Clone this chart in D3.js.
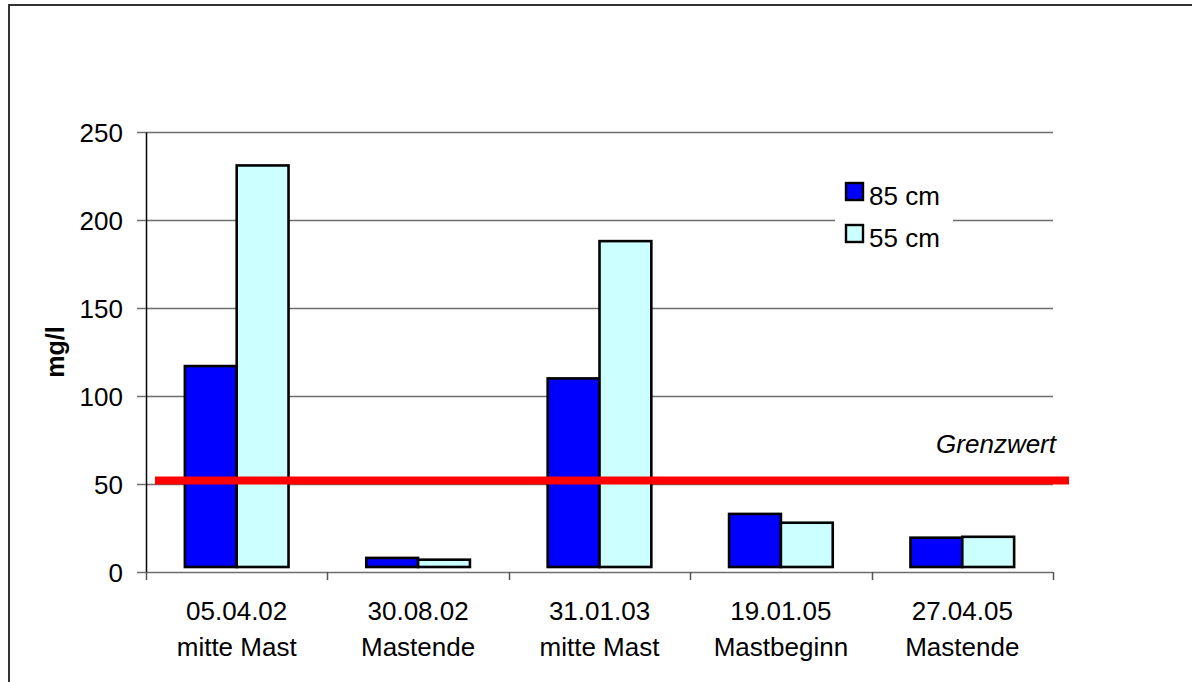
<!DOCTYPE html>
<html>
<head>
<meta charset="utf-8">
<script src="https://cdn.jsdelivr.net/npm/d3@7"></script>
<style>
  html, body { margin: 0; padding: 0; background: #fff; }
  svg { display: block; font-family: "Liberation Sans", Arial, sans-serif; }
</style>
</head>
<body>
<svg id="chart" width="1192" height="682"></svg>
<script>
// Sampling dates and fattening phase
const dates = ["05.04.02", "30.08.02", "31.01.03", "19.01.05", "27.04.05"];
const phases = ["mitte Mast", "Mastende", "mitte Mast", "Mastbeginn", "Mastende"];
// Measured concentrations (mg/l) at two depths
const series = ["85 cm", "55 cm"];
const depth85 = [117, 8, 110, 33, 19.5];
const depth55 = [231, 7, 188, 28, 20];
// Limit value line
const grenzwert = 52;
const yTicks = [0, 50, 100, 150, 200, 250];

const colors = { "85 cm": "#0000FF", "55 cm": "#CCFFFF" };
const values = { "85 cm": depth85, "55 cm": depth55 };

const svg = d3.select("#chart");
const plot = { left: 146, right: 1053, top: 132, bottom: 572 };
const fontSize = 26;

// outer frame
svg.append("rect")
  .attr("x", 9).attr("y", 5)
  .attr("width", 1200).attr("height", 700)
  .attr("fill", "none").attr("stroke", "#333").attr("stroke-width", 2);

const x = d3.scaleBand().domain(dates).range([plot.left, plot.right]).padding(0);
const xs = d3.scaleBand().domain(series).range([0, x.bandwidth()]).paddingInner(0).paddingOuter(0.75);
const y = d3.scaleLinear().domain([0, 250]).range([plot.bottom, plot.top]);

// horizontal gridlines
svg.append("g").selectAll("line").data(yTicks).join("line")
  .attr("x1", plot.left).attr("x2", plot.right)
  .attr("y1", d => Math.round(y(d)) + 0.5).attr("y2", d => Math.round(y(d)) + 0.5)
  .attr("stroke", "#6e6e6e").attr("stroke-width", 1.5);

// y axis
const yAxis = d3.axisLeft(y).tickValues(yTicks).tickSize(9).tickSizeOuter(0).tickPadding(14);
const gy = svg.append("g").attr("transform", `translate(${plot.left},0)`).call(yAxis);
gy.select(".domain").attr("stroke", "#000").attr("stroke-width", 1.5);
gy.selectAll(".tick line").attr("stroke", "#6e6e6e").attr("stroke-width", 1.5);
gy.selectAll(".tick text")
  .attr("font-size", fontSize).attr("font-family", "Liberation Sans, Arial, sans-serif")
  .attr("fill", "#000").attr("dy", "0.36em");

// x axis tick marks at category boundaries
const bounds = dates.map(d => x(d)).concat([plot.right]);
svg.append("g").selectAll("line").data(bounds).join("line")
  .attr("x1", d => Math.round(d) + 0.5).attr("x2", d => Math.round(d) + 0.5)
  .attr("y1", plot.bottom).attr("y2", plot.bottom + 8)
  .attr("stroke", "#555").attr("stroke-width", 1.5);

// bars (drawn slightly above the axis line)
const barLift = 5;
const groups = svg.append("g").selectAll("g").data(dates).join("g")
  .attr("transform", d => `translate(${x(d)},0)`);
groups.selectAll("rect")
  .data((d, i) => series.map(s => ({ s, v: values[s][i] })))
  .join("rect")
  .attr("x", d => xs(d.s))
  .attr("y", d => y(d.v))
  .attr("width", xs.bandwidth())
  .attr("height", d => y(0) - barLift - y(d.v))
  .attr("fill", d => colors[d.s])
  .attr("stroke", "#000").attr("stroke-width", 2.6);

// x category labels (two lines)
const xl = svg.append("g").selectAll("text").data(dates).join("text")
  .attr("x", d => x(d) + x.bandwidth() / 2)
  .attr("text-anchor", "middle")
  .attr("font-size", fontSize).attr("fill", "#000");
xl.append("tspan").attr("x", d => x(d) + x.bandwidth() / 2).attr("y", 620).text(d => d);
xl.append("tspan").attr("x", d => x(d) + x.bandwidth() / 2).attr("y", 656).text((d, i) => phases[i]);

// y axis title
svg.append("text")
  .attr("transform", `translate(64,${(plot.top + plot.bottom) / 2}) rotate(-90)`)
  .attr("text-anchor", "middle")
  .attr("font-size", 25).attr("font-weight", "bold").attr("fill", "#000")
  .text("mg/l");

// limit line
svg.append("line")
  .attr("x1", plot.left + 9).attr("x2", plot.right + 16)
  .attr("y1", y(grenzwert)).attr("y2", y(grenzwert))
  .attr("stroke", "#FF0000").attr("stroke-width", 8);
svg.append("text")
  .attr("x", plot.right + 3).attr("y", 453)
  .attr("text-anchor", "end")
  .attr("font-size", fontSize).attr("font-style", "italic").attr("fill", "#000")
  .text("Grenzwert");

// legend
const lg = svg.append("g");
lg.append("rect").attr("x", 835).attr("y", 172).attr("width", 118).attr("height", 84).attr("fill", "#fff");
const items = lg.selectAll("g").data(series).join("g")
  .attr("transform", (d, i) => `translate(846,${183 + i * 42})`);
items.append("rect").attr("width", 17).attr("height", 17)
  .attr("fill", d => colors[d]).attr("stroke", "#000").attr("stroke-width", 2.4);
items.append("text").attr("x", 23).attr("y", 22)
  .attr("font-size", fontSize).attr("fill", "#000").text(d => d);
</script>
</body>
</html>
